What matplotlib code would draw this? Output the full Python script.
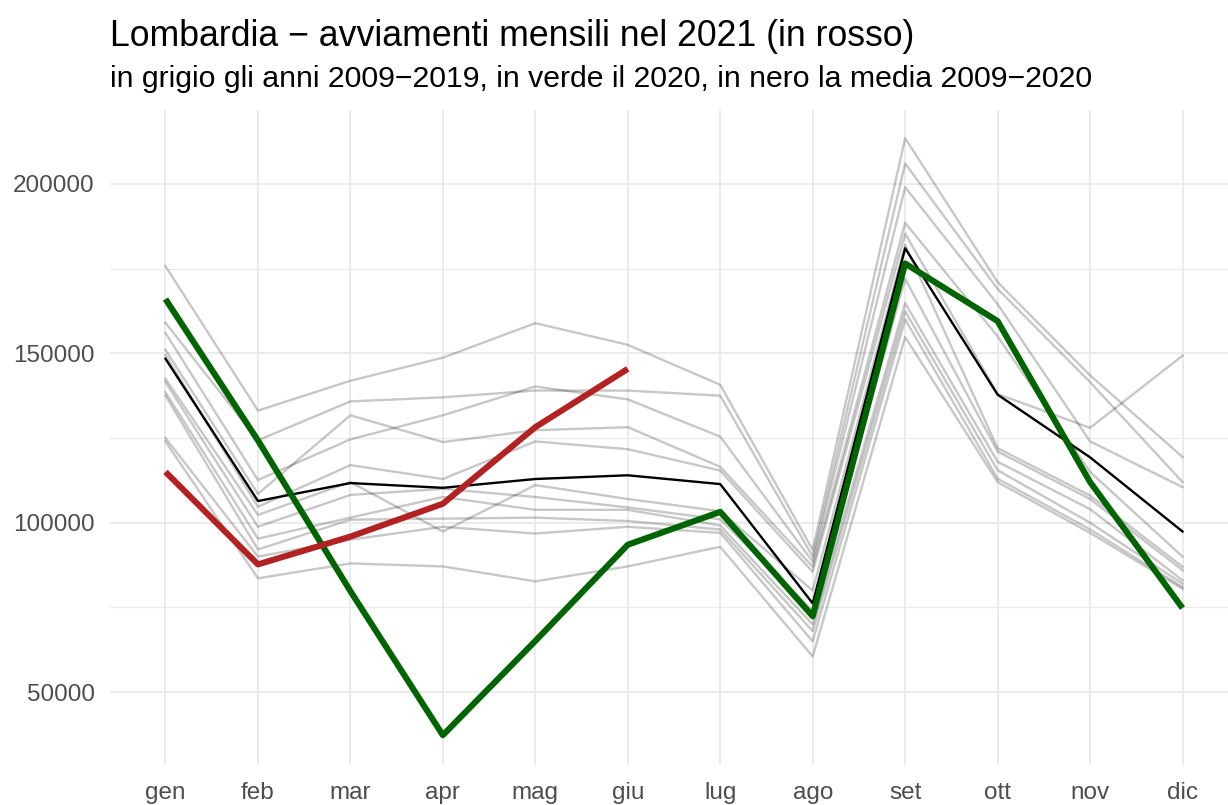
import matplotlib
matplotlib.use('Agg')
import matplotlib.pyplot as plt
from matplotlib.ticker import MultipleLocator

plt.rcParams['font.family'] = ['Liberation Sans', 'DejaVu Sans']

# mesi
mesi = ['gen', 'feb', 'mar', 'apr', 'mag', 'giu', 'lug', 'ago', 'set', 'ott', 'nov', 'dic']

# anni 2009-2019 (grigio)
a2009 = [175700, 133100, 141900, 148700, 158900, 152500, 140700, 92000, 213500, 171000, 143500, 119400]
a2010 = [159000, 124300, 135800, 137000, 139000, 139000, 137500, 90000, 206000, 169000, 141500, 112000]
a2011 = [156000, 112600, 124600, 131700, 140200, 136400, 125400, 88500, 199000, 164500, 124000, 110500]
a2012 = [151000, 108500, 131700, 123800, 127300, 128200, 116500, 87000, 188500, 155000, 115000, 90000]
a2013 = [149500, 104700, 117000, 112900, 124000, 121700, 115400, 85500, 185300, 138000, 128000, 149300]
a2014 = [142500, 102300, 112000, 97400, 111100, 107000, 103400, 80000, 182000, 122000, 108000, 87000]
a2015 = [141500, 98800, 108200, 110000, 107600, 104500, 101000, 74000, 172000, 121000, 107000, 86000]
a2016 = [138500, 95300, 101500, 107600, 103800, 103800, 99200, 70000, 164800, 118000, 104000, 83000]
a2017 = [137500, 92100, 100900, 101200, 101500, 100500, 98000, 68000, 162400, 115500, 100000, 82000]
a2018 = [125000, 90000, 95000, 98800, 96800, 98800, 97000, 65000, 160000, 113000, 98000, 81000]
a2019 = [124000, 83600, 88000, 87100, 82700, 87100, 92900, 60500, 154800, 112000, 97000, 80500]
anni_grigi = [a2009, a2010, a2011, a2012, a2013, a2014, a2015, a2016, a2017, a2018, a2019]

# 2020 (verde), media 2009-2020 (nero), 2021 (rosso, solo gen-giu)
a2020 = [166000, 124300, 79800, 37300, 65100, 93500, 103200, 72400, 176500, 159500, 112000, 74800]
media = [148400, 106400, 111700, 110300, 112900, 114000, 111400, 76200, 181000, 137800, 119300, 97400]
a2021 = [115000, 87700, 95900, 105600, 128200, 145400]

x = list(range(1, 13))

fig = plt.figure(figsize=(12.28, 8.05), dpi=100)
ax = fig.add_axes([110 / 1228, 1 - 765 / 805, 1128 / 1228, 655 / 805])

for serie in anni_grigi:
    ax.plot(x, serie, color='black', alpha=0.22, lw=1.7, solid_joinstyle='round')
ax.plot(x, media, color='black', lw=1.7)
ax.plot(x, a2020, color='#006400', lw=4.4, solid_capstyle='butt')
ax.plot(x[:len(a2021)], a2021, color='#B22222', lw=4.4, solid_capstyle='butt')

ax.set_xlim(0.4, 12.6)
ax.set_ylim(28500, 221800)
ax.set_xticks(x)
ax.set_xticklabels(mesi)
ax.yaxis.set_major_locator(MultipleLocator(50000))
ax.yaxis.set_minor_locator(MultipleLocator(25000))
ax.yaxis.set_major_formatter(matplotlib.ticker.FuncFormatter(lambda v, p: '%d' % v))

ax.grid(which='major', color='#ebebeb', lw=1.4)
ax.grid(which='minor', axis='y', color='#ebebeb', lw=0.9)
ax.set_axisbelow(True)
for s in ax.spines.values():
    s.set_visible(False)
ax.tick_params(which='both', length=0)
ax.tick_params(axis='x', labelsize=17.5, labelcolor='#4d4d4d', pad=12)
ax.tick_params(axis='y', labelsize=17.5, labelcolor='#4d4d4d', pad=11)

fig.text(110 / 1228, 1 - 46 / 805, 'Lombardia \u2212 avviamenti mensili nel 2021 (in rosso)',
         fontsize=25.7, color='black', va='baseline', ha='left')
fig.text(110 / 1228, 1 - 87 / 805,
         'in grigio gli anni 2009\u22122019, in verde il 2020, in nero la media 2009\u22122020',
         fontsize=21.8, color='black', va='baseline', ha='left')

fig.savefig('out.png', dpi=100)
